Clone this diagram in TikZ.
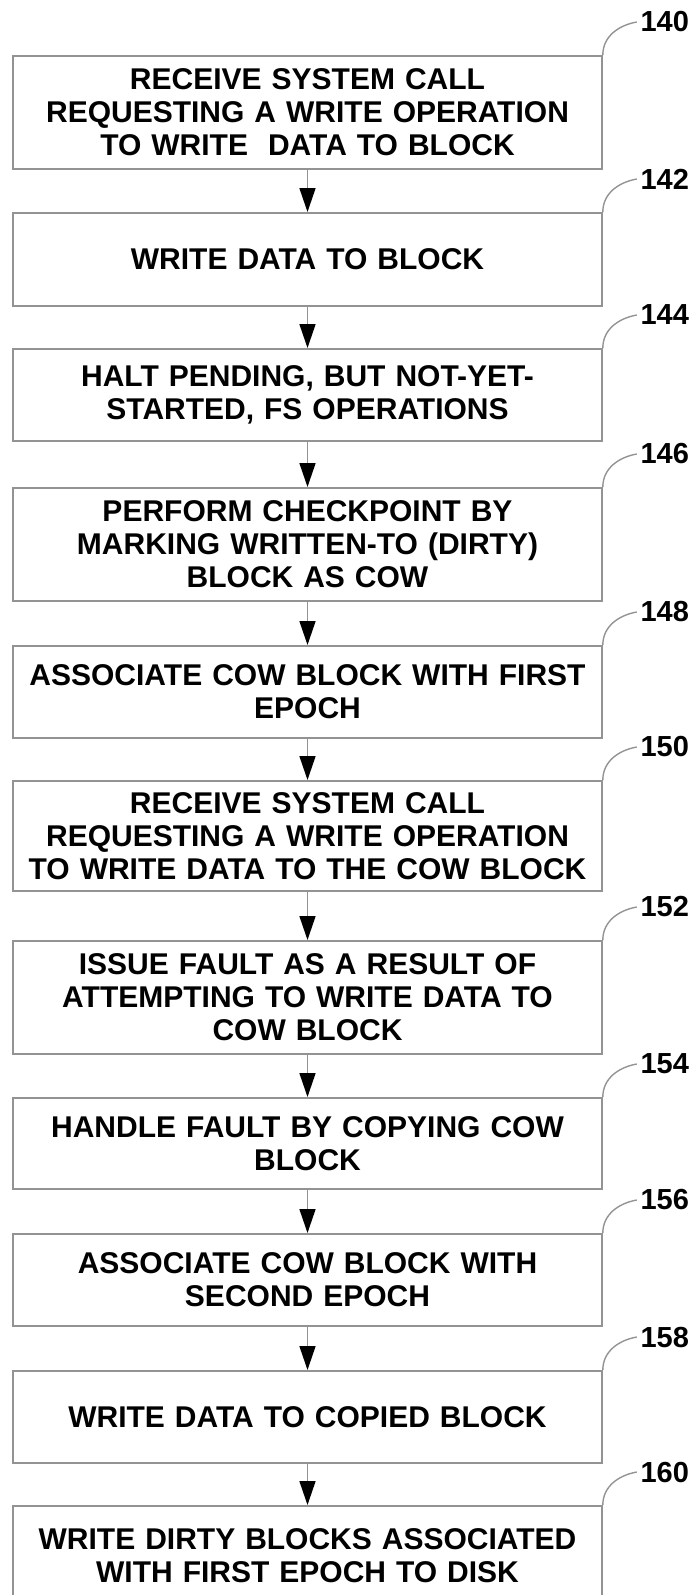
\documentclass[tikz,border=0pt]{standalone}
\usepackage{fontspec}
\setmainfont{Liberation Sans}
\usetikzlibrary{arrows.meta,positioning}

\tikzset{
  stepbox/.style={draw=gray!85, line width=1.6pt, fill=white, anchor=north,
    minimum width=589pt, text width=575pt, inner sep=0pt, align=center,
    font=\bfseries\fontsize{30}{33}\selectfont},
  flow/.style={draw=gray!85, line width=1.6pt, -{Triangle[length=24pt,width=16pt,black]}},
  leader/.style={draw=gray!85, line width=1.4pt},
  reflabel/.style={right, inner sep=3pt, font=\bfseries\fontsize{29}{29}\selectfont}
}

\begin{document}
\begin{tikzpicture}[x=1pt,y=1pt]
  \useasboundingbox (0,0) rectangle (693,-1595);
  \node[stepbox, minimum height=113pt] (b140) at (307.5,-55)
    {RECEIVE SYSTEM CALL\\ REQUESTING A WRITE OPERATION\\ TO WRITE\ \ DATA TO BLOCK};
  \node[stepbox, minimum height=93pt] (b142) at (307.5,-212)
    {WRITE DATA TO BLOCK};
  \node[stepbox, minimum height=92pt] (b144) at (307.5,-348)
    {HALT PENDING, BUT NOT-YET-\\ STARTED, FS OPERATIONS};
  \node[stepbox, minimum height=113pt] (b146) at (307.5,-487)
    {PERFORM CHECKPOINT BY\\ MARKING WRITTEN-TO (DIRTY)\\ BLOCK AS COW};
  \node[stepbox, minimum height=92pt] (b148) at (307.5,-645)
    {ASSOCIATE COW BLOCK WITH FIRST\\ EPOCH};
  \node[stepbox, minimum height=110pt] (b150) at (307.5,-780)
    {RECEIVE SYSTEM CALL\\ REQUESTING A WRITE OPERATION\\ TO WRITE DATA TO THE COW BLOCK};
  \node[stepbox, minimum height=113pt] (b152) at (307.5,-940)
    {ISSUE FAULT AS A RESULT OF\\ ATTEMPTING TO WRITE DATA TO\\ COW BLOCK};
  \node[stepbox, minimum height=91pt] (b154) at (307.5,-1097)
    {HANDLE FAULT BY COPYING COW\\ BLOCK};
  \node[stepbox, minimum height=92pt] (b156) at (307.5,-1233)
    {ASSOCIATE COW BLOCK WITH\\ SECOND EPOCH};
  \node[stepbox, minimum height=92pt] (b158) at (307.5,-1370)
    {WRITE DATA TO COPIED BLOCK};
  \node[stepbox, minimum height=100pt] (b160) at (307.5,-1505)
    {WRITE DIRTY BLOCKS ASSOCIATED\\ WITH FIRST EPOCH TO DISK\\[8pt]};

  \foreach \a/\b in {140/142,142/144,144/146,146/148,148/150,150/152,152/154,154/156,156/158,158/160}
    \draw[flow] (b\a) -- (b\b);

  \foreach \n in {140,142,144,146,148,150,152,154,156,158,160}
    \draw[leader] (b\n.north east) to[out=90,in=190] ++(34,33) node[reflabel] {\n};
\end{tikzpicture}
\end{document}
